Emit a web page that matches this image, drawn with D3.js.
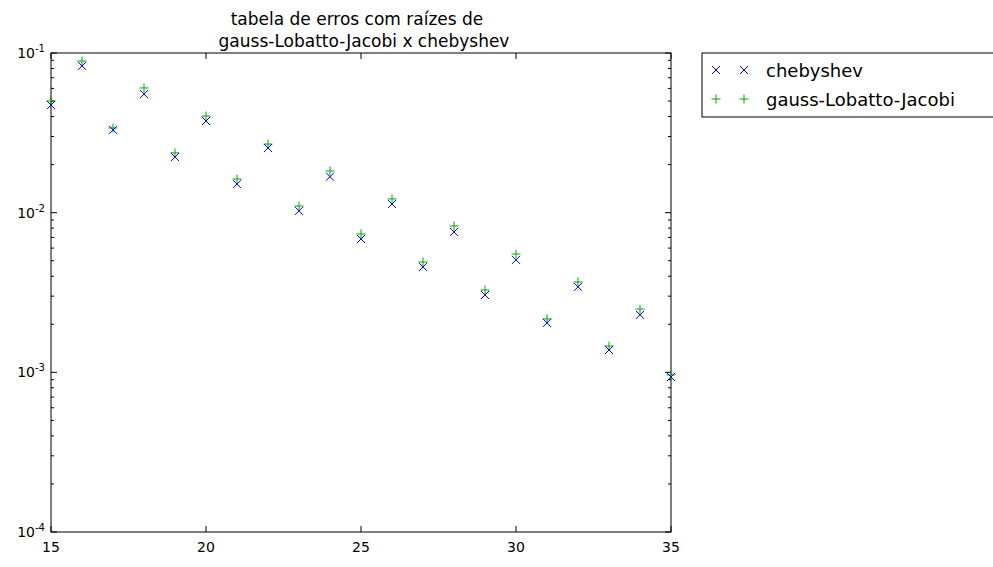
<!DOCTYPE html>
<html><head><meta charset="utf-8">
<script src="https://cdn.jsdelivr.net/npm/d3@7"></script>
<style>body{margin:0;background:#fff}text{font-family:"DejaVu Sans",sans-serif}</style>
</head><body><div id="chart"></div>
<script>
const nValues = [15,16,17,18,19,20,21,22,23,24,25,26,27,28,29,30,31,32,33,34,35];
const chebyshev = [0.0472,0.083,0.033,0.0553,0.0223,0.0375,0.0151,0.0254,0.01026,0.0168,0.00684,0.01133,0.00457,0.00757,0.00305,0.00506,0.00204,0.00343,0.00138,0.00229,0.000935];
const gauss = [0.0501,0.0891,0.0339,0.0604,0.0237,0.0403,0.01625,0.0269,0.01101,0.01824,0.00736,0.0122,0.00491,0.00826,0.00328,0.00551,0.00216,0.00368,0.00146,0.00249,0.000964];
const xTicks = [15,20,25,30,35];
const yTicks = [1e-1,1e-2,1e-3,1e-4];
const yExp = ["-1","-2","-3","-4"];

const W = 993, H = 567;
const pLeft = 51, pRight = 671, pTop = 53, pBottom = 532;
const svg = d3.select("#chart").append("svg").attr("width", W).attr("height", H);

const x = d3.scaleLinear().domain([15,35]).range([pLeft,pRight]);
const y = d3.scaleLog().domain([1e-4,1e-1]).range([pBottom,pTop]);

// ticks
const g = svg.append("g");
xTicks.forEach(t => {
  g.append("line").attr("x1",x(t)).attr("x2",x(t)).attr("y1",pBottom).attr("y2",pBottom-6).attr("stroke","#000");
  g.append("line").attr("x1",x(t)).attr("x2",x(t)).attr("y1",pTop).attr("y2",pTop+6).attr("stroke","#000");
  g.append("text").attr("x",x(t)).attr("y",pBottom+20).attr("text-anchor","middle").attr("font-size",14).text(t);
});
yTicks.forEach((t,i) => {
  g.append("line").attr("x1",pLeft).attr("x2",pLeft+6).attr("y1",y(t)).attr("y2",y(t)).attr("stroke","#000");
  g.append("line").attr("x1",pRight).attr("x2",pRight-6).attr("y1",y(t)).attr("y2",y(t)).attr("stroke","#000");
  const tx = g.append("text").attr("x",pLeft-6).attr("y",y(t)+5).attr("text-anchor","end").attr("font-size",14);
  tx.append("tspan").text("10");
  tx.append("tspan").attr("dy",-6).attr("font-size",10).text(yExp[i]);
  // minor ticks
  if (i < yTicks.length-1) {
    for (let k=2;k<10;k++) {
      const v = yTicks[i+1]*k;
      g.append("line").attr("x1",pLeft).attr("x2",pLeft+3).attr("y1",y(v)).attr("y2",y(v)).attr("stroke","#000");
      g.append("line").attr("x1",pRight).attr("x2",pRight-3).attr("y1",y(v)).attr("y2",y(v)).attr("stroke","#000");
    }
  }
});

svg.append("rect").attr("x",pLeft).attr("y",pTop).attr("width",pRight-pLeft).attr("height",pBottom-pTop)
  .attr("fill","none").attr("stroke","#000");

const plot = svg.append("g");
function cross(sel, cx, cy, s, col) {
  sel.append("path").attr("d",`M${cx-s},${cy-s}L${cx+s},${cy+s}M${cx-s},${cy+s}L${cx+s},${cy-s}`).attr("stroke",col).attr("fill","none");
}
function plus(sel, cx, cy, s, col) {
  sel.append("path").attr("d",`M${cx-s},${cy}L${cx+s},${cy}M${cx},${cy-s}L${cx},${cy+s}`).attr("stroke",col).attr("fill","none");
}
nValues.forEach((n,i) => plus(plot, x(n), y(gauss[i]), 4.5, "#00aa00"));
nValues.forEach((n,i) => cross(plot, x(n), y(chebyshev[i]), 4, "#0000ff"));

svg.append("text").attr("x",357).attr("y",25).attr("text-anchor","middle").attr("font-size",17)
  .text("tabela de erros com raízes de");
svg.append("text").attr("x",364).attr("y",47).attr("text-anchor","middle").attr("font-size",17)
  .text("gauss-Lobatto-Jacobi x chebyshev");

// legend
const lg = svg.append("g");
lg.append("rect").attr("x",702).attr("y",53).attr("width",310).attr("height",64).attr("fill","#fff").attr("stroke","#000");
cross(lg, 716, 70, 4, "#0000ff"); cross(lg, 744, 70, 4, "#0000ff");
plus(lg, 716, 99, 4.5, "#00aa00"); plus(lg, 744, 99, 4.5, "#00aa00");
lg.append("text").attr("x",766).attr("y",77).attr("font-size",18).text("chebyshev");
lg.append("text").attr("x",766).attr("y",106).attr("font-size",18).text("gauss-Lobatto-Jacobi");
</script></body></html>
